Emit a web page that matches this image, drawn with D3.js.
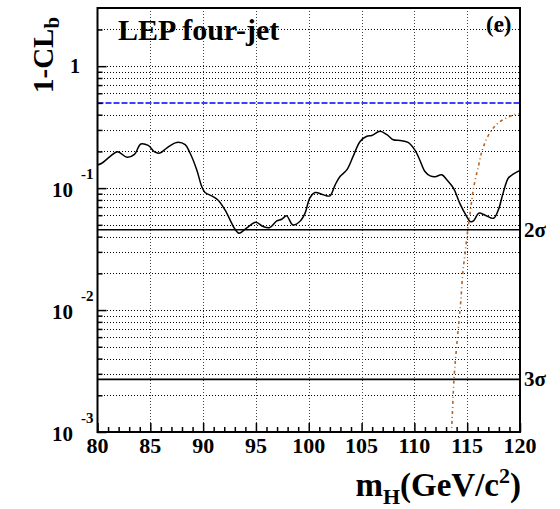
<!DOCTYPE html>
<html>
<head>
<meta charset="utf-8">
<script src="https://cdn.jsdelivr.net/npm/d3@7"></script>
<style>
  html, body { margin: 0; padding: 0; background: #fff; }
  svg { display: block; font-family: "Liberation Serif", "DejaVu Serif", serif; font-weight: bold; }
</style>
</head>
<body>
<svg id="chart" width="560" height="509"></svg>
<script>
// Observed 1-CL_b as a function of the Higgs mass (GeV/c^2)
const obsMass = [80, 80.4, 81.2, 81.9, 82.8, 83.5, 84.1, 84.8, 85.4, 85.9, 86.55, 87.5, 88.3, 88.76,
  89.4, 89.87, 90.18, 90.8, 91.4, 92.07, 92.7, 92.95, 93.4, 94.1, 94.98, 95.7, 96.3, 96.97, 97.44,
  97.9, 98.5, 99.2, 99.65, 100.1, 100.6, 101.4, 102.0, 102.5, 102.96, 103.6, 104.2, 104.86, 105.5,
  105.97, 106.75, 107.4, 108.0, 108.65, 109.4, 110.07, 110.5, 111.0, 111.5, 111.96, 112.6, 113.07,
  113.7, 114.3, 114.96, 115.3, 115.6, 116.1, 116.7, 117.5, 117.95, 118.4, 118.9, 119.4, 120];
const obsValue = [0.155, 0.160, 0.182, 0.199, 0.179, 0.189, 0.230, 0.224, 0.198, 0.194, 0.213, 0.237, 0.227, 0.194,
  0.141, 0.103, 0.092, 0.0864, 0.080, 0.0663, 0.0516, 0.0470, 0.0427, 0.0469, 0.0525, 0.0483, 0.0474, 0.0538, 0.0556,
  0.0592, 0.0499, 0.0538, 0.0623, 0.0828, 0.092, 0.088, 0.0864, 0.1065, 0.1245, 0.141, 0.182, 0.2416, 0.266,
  0.270, 0.292, 0.274, 0.249, 0.246, 0.237, 0.204, 0.171, 0.137, 0.126, 0.124, 0.1286, 0.117,
  0.100, 0.075, 0.0584, 0.0531, 0.0538, 0.0623, 0.060, 0.0566, 0.0663, 0.091, 0.121, 0.131, 0.1395];

// Expected 1-CL_b for a signal at the test mass
const expMass = [113.45, 113.54, 113.76, 114.0, 114.23, 114.4, 114.58, 114.8, 115.02, 115.2, 115.35, 115.6,
  116.06, 116.44, 116.95, 117.4, 117.95, 118.75, 119.5, 120];
const expValue = [0.0008, 0.0011, 0.0028, 0.0050, 0.0083, 0.0120, 0.0200, 0.0292, 0.0427, 0.056, 0.070, 0.100,
  0.151, 0.2065, 0.265, 0.305, 0.343, 0.377, 0.401, 0.408];

// Reference levels
const halfLevel = 0.5;
const sigmaLevels = [0.0455, 0.0027];
const sigmaLabels = ["2σ", "3σ"];

const xMajorTicks = [80, 85, 90, 95, 100, 105, 110, 115, 120];
const yMajorTicks = [1e-3, 1e-2, 1e-1, 1];
const yTickExponents = ["-3", "-2", "-1", ""];

const svg = d3.select("#chart");
const L = 97.5, R = 520, T = 8, B = 432;

const x = d3.scaleLinear().domain([80, 120]).range([L, R]);
const y = d3.scaleLog().domain([1e-3, 3]).range([B, T]);
const px = v => Math.round(v) + 0.5;

// log grid values 1..9 x 10^k
const yAll = [];
for (let k = -3; k <= 0; k++) for (let m = 1; m <= 9; m++) {
  const v = m * Math.pow(10, k);
  if (v <= 3 + 1e-9) yAll.push(v);
}
const yMinor = yAll.filter(v => !yMajorTicks.some(t => Math.abs(t - v) < 1e-12));
const xMinor = d3.range(80, 121, 1).filter(v => v % 5 !== 0);

// grid (the 0.5 row is covered by the reference line)
const grid = svg.append("g").attr("stroke", "#000").attr("stroke-width", 1)
  .attr("stroke-dasharray", "1 2").attr("shape-rendering", "crispEdges");
grid.selectAll("line.h").data(yAll.filter(v => v > 1e-3 && v < 3 && Math.abs(v - halfLevel) > 1e-9)).join("line")
  .attr("class", "h")
  .attr("x1", L).attr("x2", R).attr("y1", d => px(y(d))).attr("y2", d => px(y(d)));
grid.selectAll("line.v").data(xMajorTicks.filter(v => v > 80 && v < 120)).join("line")
  .attr("class", "v").attr("stroke", "#444")
  .attr("y1", T).attr("y2", B).attr("x1", d => px(x(d))).attr("x2", d => px(x(d)));

// clip region for curves
svg.append("clipPath").attr("id", "plotClip").append("rect")
  .attr("x", L).attr("y", T).attr("width", R - L).attr("height", B - T);

// 0.5 reference line
svg.append("line").attr("x1", L).attr("x2", R).attr("y1", y(halfLevel)).attr("y2", y(halfLevel))
  .attr("stroke", "#0000ff").attr("stroke-width", 1.5).attr("stroke-dasharray", "6 2");

// sigma lines and labels
sigmaLevels.forEach((v, i) => {
  svg.append("line").attr("x1", L).attr("x2", R).attr("y1", y(v)).attr("y2", y(v))
    .attr("stroke", "#000").attr("stroke-width", 1.6);
  svg.append("text").attr("x", R + 4).attr("y", y(v) + 7).attr("font-size", 21)
    .text(sigmaLabels[i]);
});

const line = d3.line().x(d => x(d[0])).y(d => y(d[1])).curve(d3.curveCatmullRom.alpha(0.5));

svg.append("path").datum(d3.zip(expMass, expValue)).attr("d", line)
  .attr("clip-path", "url(#plotClip)")
  .attr("fill", "none").attr("stroke", "#b0662a").attr("stroke-width", 1.6)
  .attr("stroke-dasharray", "3 3 1 3");

svg.append("path").datum(d3.zip(obsMass, obsValue)).attr("d", line)
  .attr("clip-path", "url(#plotClip)")
  .attr("fill", "none").attr("stroke", "#000").attr("stroke-width", 1.5);

// axes: ticks pointing into the frame
const axX = svg.append("g").attr("transform", `translate(0,${B})`);
axX.call(d3.axisBottom(x).tickValues(xMajorTicks).tickSize(-9).tickFormat(""));
axX.append("g").call(d3.axisBottom(x).tickValues(xMinor).tickSize(-5).tickFormat(""));
axX.selectAll(".domain").remove();
axX.selectAll("line").attr("stroke", "#000").attr("stroke-width", 1.5);

const axY = svg.append("g").attr("transform", `translate(${L},0)`);
axY.call(d3.axisLeft(y).tickValues(yMajorTicks).tickSize(-9).tickFormat(""));
axY.append("g").call(d3.axisLeft(y).tickValues(yMinor.filter(v => v < 3)).tickSize(-5).tickFormat(""));
axY.selectAll(".domain").remove();
axY.selectAll("line").attr("stroke", "#000").attr("stroke-width", 1.5);

// frame
svg.append("rect").attr("x", L).attr("y", T).attr("width", R - L).attr("height", B - T)
  .attr("fill", "none").attr("stroke", "#000").attr("stroke-width", 2);

// x tick labels
svg.append("g").selectAll("text").data(xMajorTicks).join("text")
  .attr("x", d => x(d)).attr("y", B + 21).attr("text-anchor", "middle").attr("font-size", 22)
  .text(d => d);

// y tick labels (powers of ten)
yMajorTicks.forEach((v, i) => {
  if (yTickExponents[i] === "") {
    svg.append("text").attr("x", 80).attr("y", y(v) + 7).attr("text-anchor", "end")
      .attr("font-size", 20).text("1");
  } else {
    svg.append("text").attr("x", 73).attr("y", y(v) + 9).attr("text-anchor", "end")
      .attr("font-size", 21).text("10");
    svg.append("text").attr("x", 81).attr("y", y(v) - 9).attr("font-size", 15)
      .text(yTickExponents[i]);
  }
});

// titles
svg.append("text").attr("x", 118).attr("y", 40).attr("font-size", 30).text("LEP four-jet");
svg.append("text").attr("x", 486).attr("y", 32).attr("font-size", 23).text("(e)");

const yl = svg.append("text").attr("transform", "translate(53,93) rotate(-90)").attr("font-size", 29);
yl.append("tspan").text("1-CL");
yl.append("tspan").attr("font-size", 21).attr("dy", 6).text("b");

const xl = svg.append("text").attr("x", 521).attr("y", 496).attr("text-anchor", "end").attr("font-size", 33);
xl.append("tspan").text("m");
xl.append("tspan").attr("font-size", 22).attr("dy", 8).text("H");
xl.append("tspan").attr("dy", -8).text("(GeV/c");
xl.append("tspan").attr("font-size", 22).attr("dy", -13).text("2");
xl.append("tspan").attr("dy", 13).text(")");
</script>
</body>
</html>
